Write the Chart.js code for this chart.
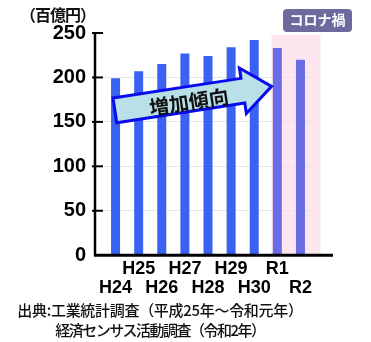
<!DOCTYPE html>
<html>
<head>
<meta charset="utf-8">
<script src="https://cdn.jsdelivr.net/npm/chart.js"></script>
<style>
  body { margin: 0; background: #fff; }
  #wrap { position: relative; width: 371px; height: 342px; }
  #unit { position: absolute; left: 20px; top: 2px; font: bold 16px "Noto Sans CJK JP", sans-serif; color: #111; letter-spacing: -1px; }
  #badge { position: absolute; left: 283px; top: 9px; width: 69px; height: 23px; line-height: 23px;
           background: #6b6b9e; border-radius: 4px; color: #fff; text-align: center;
           font: bold 14px "Noto Sans CJK JP", sans-serif; }
  .src { position: absolute; left: 0; width: 320px; text-align: center; color: #111;
         font: 500 15px "Noto Sans CJK JP", sans-serif; }
</style>
</head>
<body>
<div id="wrap">
  <canvas id="c" width="371" height="342"></canvas>
  <div id="unit">（百億円）</div>
  <div id="badge">コロナ禍</div>
  <div class="src" style="top:299px; letter-spacing:-0.3px">出典:工業統計調査（平成25年～令和元年）</div>
  <div class="src" style="top:319px; letter-spacing:-1.5px">経済センサス活動調査（令和2年）</div>
</div>
<script>
// データ
const years = ["H24", "H25", "H26", "H27", "H28", "H29", "H30", "R1", "R2"];
const sales = [199, 207, 215, 227, 224, 234, 242, 233, 220];
const yTicks = [0, 50, 100, 150, 200, 250];
const covidYears = ["R1", "R2"];

// ラベルを上下に互い違いに並べる
const xLabels = years.map((y, i) => i % 2 === 1 ? [y, ""] : ["", y]);
const barColors = years.map(y => covidYears.includes(y) ? "#6a6ce6" : "#3a62f2");

// 背景・軸・矢印の描画
const decor = {
    id: "decor",
    beforeDraw(chart) {
        const { ctx, chartArea, scales } = chart;
        const x = scales.x, y = scales.y;
        const first = years.indexOf(covidYears[0]);
        const last = years.indexOf(covidYears[covidYears.length - 1]);
        const left = x.getPixelForValue(first - 0.26);
        const right = x.getPixelForValue(last + 0.87);
        ctx.save();
        ctx.fillStyle = "#fde6f0";
        ctx.fillRect(left, y.getPixelForValue(248), right - left, chartArea.bottom - y.getPixelForValue(248));
        ctx.restore();
    },
    afterDatasetsDraw(chart) {
        const { ctx, scales } = chart;
        const x = scales.x, y = scales.y;
        // 増加傾向の矢印
        const x0 = x.getPixelForValue(-0.03), y0 = y.getPixelForValue(163);
        const x1 = x.getPixelForValue(6.75), y1 = y.getPixelForValue(190);
        const ang = Math.atan2(y1 - y0, x1 - x0);
        const len = Math.hypot(x1 - x0, y1 - y0);
        const bw = 12.5, hw = 23, hl = 29;
        ctx.save();
        ctx.translate(x0, y0);
        ctx.rotate(ang);
        ctx.beginPath();
        ctx.moveTo(0, -bw);
        ctx.lineTo(len - hl, -bw);
        ctx.lineTo(len - hl, -hw);
        ctx.lineTo(len, 0);
        ctx.lineTo(len - hl, hw);
        ctx.lineTo(len - hl, bw);
        ctx.lineTo(0, bw);
        ctx.closePath();
        ctx.fillStyle = "#b8e0e6";
        ctx.fill();
        ctx.lineWidth = 3;
        ctx.strokeStyle = "#0a0aee";
        ctx.lineJoin = "miter";
        ctx.stroke();
        ctx.fillStyle = "#111";
        ctx.font = "bold 20px 'Noto Sans CJK JP', sans-serif";
        ctx.textAlign = "center";
        ctx.textBaseline = "middle";
        ctx.fillText("増加傾向", len * 0.47, 3);
        ctx.restore();
    },
    afterDraw(chart) {
        const { ctx, chartArea, scales } = chart;
        const y = scales.y;
        const ax = chartArea.left - 9;
        const base = y.getPixelForValue(0);
        ctx.save();
        ctx.strokeStyle = "#000";
        ctx.lineWidth = 2;
        yTicks.forEach(v => {
            if (v === 0) return;
            const py = y.getPixelForValue(v);
            ctx.beginPath();
            ctx.moveTo(ax - 3, py);
            ctx.lineTo(ax + 8, py);
            ctx.stroke();
        });
        ctx.lineWidth = 2.5;
        ctx.beginPath();
        ctx.moveTo(ax, y.getPixelForValue(250) - 1);
        ctx.lineTo(ax, base);
        ctx.stroke();
        ctx.lineWidth = 3;
        ctx.beginPath();
        ctx.moveTo(ax - 1, base);
        ctx.lineTo(333, base);
        ctx.stroke();
        ctx.restore();
    }
};

const ctx = document.getElementById("c").getContext("2d");
const chart = new Chart(ctx, {
    type: "bar",
    data: {
        labels: xLabels,
        datasets: [{
            data: sales,
            backgroundColor: barColors,
            borderWidth: 0,
            categoryPercentage: 1,
            barPercentage: 0.39
        }]
    },
    options: {
        responsive: false,
        animation: false,
        layout: { padding: { left: 44, right: 59, top: 33, bottom: 41 } },
        plugins: { legend: { display: false }, tooltip: { enabled: false } },
        scales: {
            x: {
                grid: { display: false, drawTicks: false },
                border: { display: false },
                ticks: {
                    autoSkip: false, maxRotation: 0, padding: 4, color: "#000",
                    font: { family: "'Liberation Sans', Arial, sans-serif", size: 18, weight: "bold", lineHeight: 1.05 }
                }
            },
            y: {
                min: 0, max: 250,
                afterFit: s => { s.width = 60; },
                afterBuildTicks: s => { s.ticks = yTicks.map(v => ({ value: v })); },
                grid: {
                    drawTicks: false,
                    color: c => (c.tick.value === 0 || c.tick.value === 250) ? "rgba(0,0,0,0)" : "#e6e6e6"
                },
                border: { display: false },
                ticks: {
                    padding: 18, color: "#000",
                    font: { family: "'Liberation Sans', Arial, sans-serif", size: 20, weight: "bold" }
                }
            }
        }
    },
    plugins: [decor]
});
</script>
</body>
</html>
